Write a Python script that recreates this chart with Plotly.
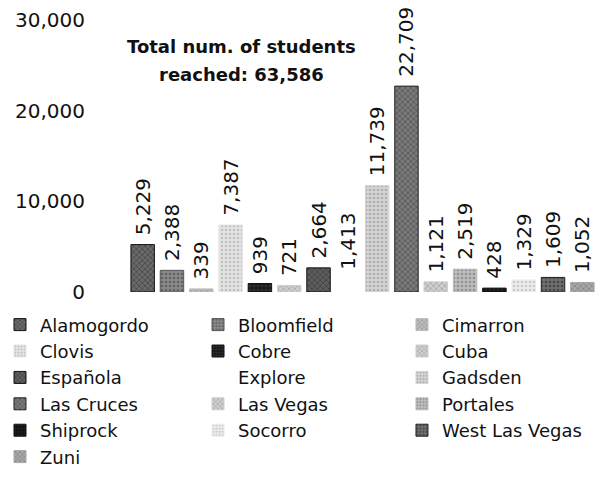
import plotly.graph_objects as go

schools = ["Alamogordo", "Bloomfield", "Cimarron", "Clovis", "Cobre", "Cuba",
           "Española", "Explore", "Gadsden", "Las Cruces", "Las Vegas", "Portales",
           "Shiprock", "Socorro", "West Las Vegas", "Zuni"]
students = [5229, 2388, 339, 7387, 939, 721, 2664, 1413, 11739, 22709, 1121,
            2519, 428, 1329, 1609, 1052]
total_lines = ["Total num. of students", "reached: 63,586"]
y_ticks = [0, 10000, 20000, 30000]

# grayscale "dithered" look: (background, foreground, pattern shape, outline)
styles = {
    "Alamogordo":     ("#6a6a6a", "#1e1e1e", "x", "#111111"),
    "Bloomfield":     ("#8a8a8a", "#3a3a3a", ".", "#555555"),
    "Cimarron":       ("#bdbdbd", "#6a6a6a", "x", "#bdbdbd"),
    "Clovis":         ("#e4e4e4", "#9a9a9a", ".", "#e4e4e4"),
    "Cobre":          ("#1a1a1a", "#4a4a4a", ".", "#111111"),
    "Cuba":           ("#cfcfcf", "#7a7a7a", "x", "#cfcfcf"),
    "Española":       ("#5e5e5e", "#1e1e1e", "x", "#111111"),
    "Explore":        ("#ffffff", "#ffffff", "", "#ffffff"),
    "Gadsden":        ("#d4d4d4", "#8a8a8a", ".", "#d4d4d4"),
    "Las Cruces":     ("#7a7a7a", "#2a2a2a", "x", "#222222"),
    "Las Vegas":      ("#cfcfcf", "#7a7a7a", "x", "#cfcfcf"),
    "Portales":       ("#bcbcbc", "#6a6a6a", ".", "#bcbcbc"),
    "Shiprock":       ("#111111", "#333333", ".", "#111111"),
    "Socorro":        ("#ececec", "#a8a8a8", ".", "#ececec"),
    "West Las Vegas": ("#6e6e6e", "#222222", ".", "#222222"),
    "Zuni":           ("#a8a8a8", "#5a5a5a", "x", "#a8a8a8"),
}

FONT = "DejaVu Sans"
legend_ids = ["legend", "legend2", "legend3"]  # one per column, filled row by row

fig = go.Figure()
for i, (name, val) in enumerate(zip(schools, students)):
    bg, fg, shape, edge = styles[name]
    fig.add_trace(go.Bar(
        x=[name],
        y=[val],
        name=name,
        legend=legend_ids[i % 3],
        marker=dict(
            color=bg,
            line=dict(color=edge, width=1),
            pattern=dict(shape=shape, fgcolor=fg, bgcolor=bg, size=4, solidity=0.35),
        ),
        # leading nbsp = a bit more gap between bar top and the rotated label
        text=["\u00a0" + f"{val:,}"],
        textposition="outside",
        textangle=-90,
        constraintext="none",
        cliponaxis=False,
        textfont=dict(family=FONT, size=20, color="#111111"),
    ))

# two separate lines so the line spacing can match
for line, ypos in zip(total_lines, [0.904, 0.801]):
    fig.add_annotation(
        text=line,
        x=0.243, y=ypos, xref="paper", yref="paper",
        xanchor="center", yanchor="middle",
        showarrow=False,
        font=dict(family=FONT, size=18, color="#111111", weight="bold"),
    )


def legend_col(xpos):
    return dict(
        orientation="v",
        x=xpos, y=-0.053, xanchor="left", yanchor="top",
        indentation=-10,
        font=dict(family=FONT, size=18),
        traceorder="normal",
        itemclick=False,
        bgcolor="rgba(0,0,0,0)",
    )


fig.update_layout(
    width=615,
    height=486,
    barmode="overlay",
    bargap=0.2,
    plot_bgcolor="white",
    paper_bgcolor="white",
    margin=dict(t=12, b=202, l=120, r=26, autoexpand=False),
    font=dict(family=FONT, size=20, color="#111111"),
    xaxis=dict(showticklabels=False, showgrid=False, zeroline=False,
               showline=False, ticks="", automargin=False),
    yaxis=dict(range=[0, 30000], tickvals=y_ticks, tickformat=",",
               showgrid=False, zeroline=False, showline=False, automargin=False,
               ticklabelstandoff=42, tickfont=dict(size=20)),
    legend=legend_col(-0.2516),
    legend2=legend_col(0.1706),
    legend3=legend_col(0.6055),
)

fig.write_html("out.html")
